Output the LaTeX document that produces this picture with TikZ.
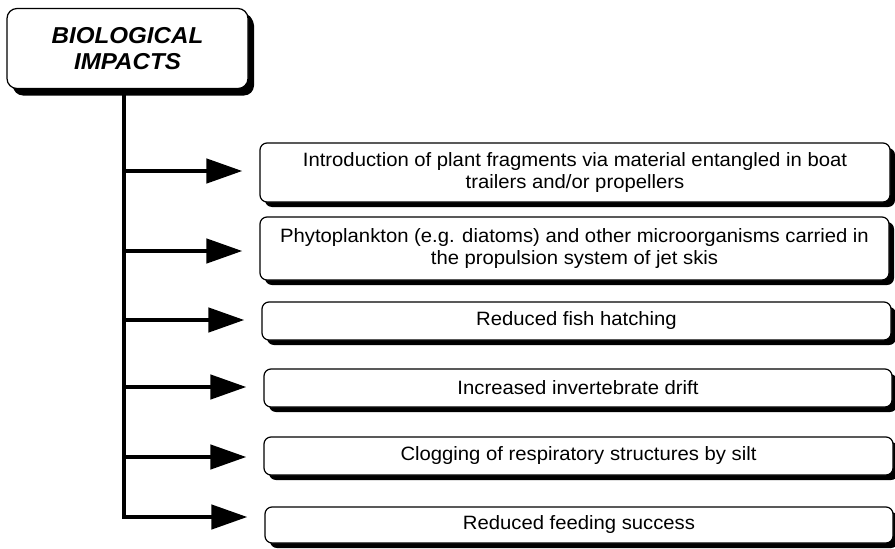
\documentclass[tikz,border=0pt]{standalone}
\usepackage{fontspec}
\setmainfont{Liberation Sans}[FakeStretch=1.05]
\usetikzlibrary{arrows.meta,shadows}
\begin{document}
\begin{tikzpicture}[x=1pt,y=-1pt,
  shadowed/.style={draw=black, line width=1.2pt, fill=white, rounded corners=7pt,
    drop shadow={shadow xshift=5pt, shadow yshift=-5pt, opacity=1, fill=black}},
  titlebox/.style={shadowed, rounded corners=10pt, minimum width=241pt, minimum height=80pt,
    drop shadow={shadow xshift=6pt, shadow yshift=-7pt, opacity=1, fill=black},
    font=\fontsize{23}{26}\selectfont\bfseries\itshape, align=center, inner sep=0pt},
  itembox/.style={shadowed, font=\fontsize{19.3}{21.5}\selectfont, align=center, inner sep=0pt},
  trunkline/.style={line width=4.5pt, line join=miter},
  branch/.style={line width=4.5pt, -{Triangle[length=36pt,width=24pt]}, shorten >=17pt}
]
\useasboundingbox (0,0) rectangle (895,549);

% heading and the six effect boxes
\node[titlebox] (title) at (127.5,48.5) {BIOLOGICAL\\IMPACTS};
\node[itembox, minimum width=630pt, minimum height=59pt] (b1) at (575,172.5)
  {Introduction of plant fragments via material entangled in boat\\trailers and/or propellers};
\node[itembox, minimum width=629pt, minimum height=63pt] (b2) at (574.5,248.5)
  {Phytoplankton (e.g. diatoms) and other microorganisms carried in\\the propulsion system of jet skis};
\node[itembox, minimum width=629pt, minimum height=38pt] (b3) at (576.5,321) {Reduced fish hatching};
\node[itembox, minimum width=628pt, minimum height=38pt] (b4) at (578,388) {Increased invertebrate drift};
\node[itembox, minimum width=629pt, minimum height=38pt] (b5) at (578.5,456) {Clogging of respiratory structures by silt};
\node[itembox, minimum width=628pt, minimum height=36pt] (b6) at (579,525) {Reduced feeding success};

% branch points on the trunk
\coordinate (t1) at (124,171);
\coordinate (t2) at (124,251);
\coordinate (t3) at (124,320);
\coordinate (t4) at (124,387);
\coordinate (t5) at (124,457);
\coordinate (t6) at (124,517);

% trunk, ending in the last branch
\draw[trunkline, branch] (title.south -| t1) -- (t6) -- (t6 -| b6.west);
\draw[branch] (t1) -- (t1 -| b1.west);
\draw[branch] (t2) -- (t2 -| b2.west);
\draw[branch] (t3) -- (t3 -| b3.west);
\draw[branch] (t4) -- (t4 -| b4.west);
\draw[branch] (t5) -- (t5 -| b5.west);
\end{tikzpicture}
\end{document}
